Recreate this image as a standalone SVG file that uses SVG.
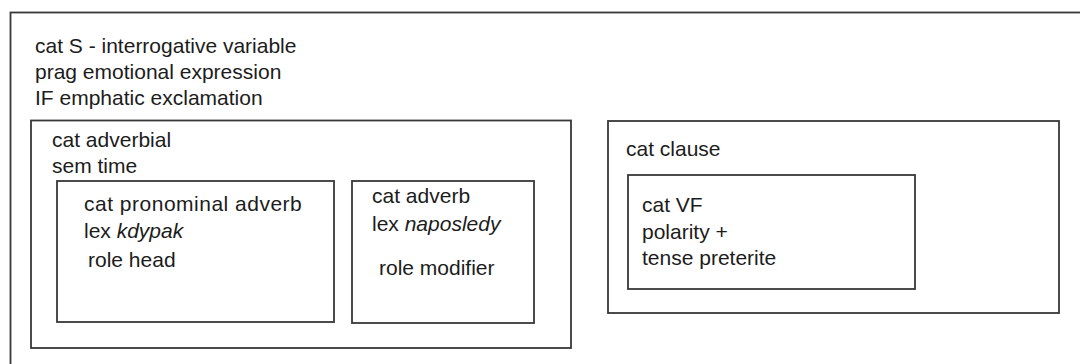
<svg xmlns="http://www.w3.org/2000/svg" width="1080" height="364" viewBox="0 0 1080 364">
  <style>
    .box { fill: none; stroke: #383838; stroke-width: 1.8; }
    .lbl { font-family: "Liberation Sans", Arial, sans-serif; font-size: 21px; fill: #1c1c1c; }
    .it { font-style: italic; }
  </style>
  <rect x="0" y="0" width="1080" height="364" fill="#ffffff"/>

  <!-- sentence frame -->
  <g id="sentence">
    <rect class="box" x="10.5" y="12.5" width="1100" height="400"/>
    <text class="lbl" x="35" y="53">cat S - interrogative variable</text>
    <text class="lbl" x="35" y="79">prag emotional expression</text>
    <text class="lbl" x="35" y="105">IF emphatic exclamation</text>
  </g>

  <!-- adverbial constituent -->
  <g id="adverbial">
    <rect class="box" x="31" y="120.5" width="540" height="227.5"/>
    <text class="lbl" x="52" y="147">cat adverbial</text>
    <text class="lbl" x="52" y="173">sem time</text>
  </g>

  <g id="pronominal-adverb">
    <rect class="box" x="57" y="181" width="277" height="141"/>
    <text class="lbl" x="84" y="211" letter-spacing="0.5">cat pronominal adverb</text>
    <text class="lbl" x="84" y="238">lex <tspan class="it">kdypak</tspan></text>
    <text class="lbl" x="88" y="267">role head</text>
  </g>

  <g id="adverb">
    <rect class="box" x="352" y="181" width="182" height="142"/>
    <text class="lbl" x="372" y="203">cat adverb</text>
    <text class="lbl" x="372" y="231">lex <tspan class="it">naposledy</tspan></text>
    <text class="lbl" x="379" y="275">role modifier</text>
  </g>

  <!-- clause constituent -->
  <g id="clause">
    <rect class="box" x="608" y="121" width="451" height="192"/>
    <text class="lbl" x="626" y="156">cat clause</text>
  </g>

  <g id="verb-form">
    <rect class="box" x="628" y="175" width="287" height="114"/>
    <text class="lbl" x="642" y="212">cat VF</text>
    <text class="lbl" x="642" y="239">polarity +</text>
    <text class="lbl" x="642" y="265">tense preterite</text>
  </g>

  <g id="connectors"></g>
</svg>
